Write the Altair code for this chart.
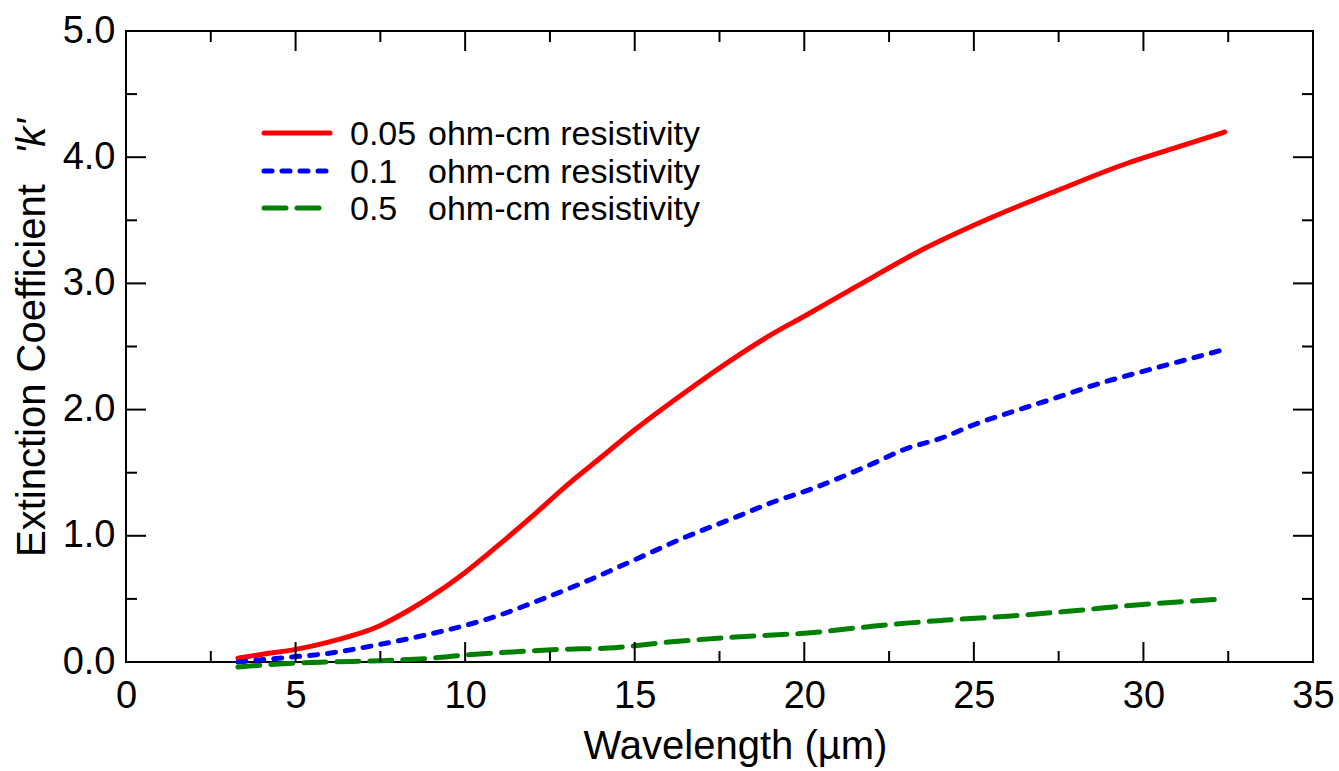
import altair as alt
import pandas as pd

# ---------------- data ----------------
series_labels = ["0.05", "0.1", "0.5"]
legend_unit = "ohm-cm resistivity"
series_colors = ["#ff0000", "#0000ff", "#008000"]
series_dashes = [None, [8, 10], [22, 11]]

red_x = [3.3, 4.0, 5.0, 6.0, 7.5, 8.4, 9.0, 10.0, 11.0, 12.0, 13.0, 14.0, 15.0, 16.5, 18.0,
         19.0, 20.0, 21.5, 23.5, 25.5, 27.5, 29.5, 31.0, 32.4]
red_y = [0.03, 0.06, 0.10, 0.16, 0.29, 0.42, 0.52, 0.71, 0.93, 1.16, 1.40, 1.62, 1.84, 2.14, 2.42,
         2.59, 2.74, 2.97, 3.27, 3.52, 3.74, 3.95, 4.08, 4.20]

blue_x = [3.3, 4.5, 6.0, 7.4, 8.6, 10.0, 11.0, 12.0, 13.4, 15.0, 16.5, 18.0, 19.1, 20.1,
          22.0, 23.0, 24.0, 25.0, 26.1, 27.5, 28.5, 30.5, 32.3]
blue_y = [0.00, 0.03, 0.07, 0.135, 0.20, 0.29, 0.37, 0.47, 0.62, 0.81, 0.99, 1.15, 1.27, 1.36,
          1.57, 1.69, 1.77, 1.88, 1.98, 2.10, 2.19, 2.34, 2.47]

green_x = [3.3, 4.5, 6.0, 7.5, 9.0, 10.0, 11.4, 12.8, 14.2, 16.1, 18.1, 20.1, 21.9, 23.1,
           24.1, 26.1, 27.7, 29.7, 32.4]
green_y = [-0.04, -0.015, 0.0, 0.01, 0.03, 0.055, 0.08, 0.10, 0.11, 0.16, 0.20, 0.23, 0.28, 0.31,
           0.33, 0.365, 0.40, 0.45, 0.50]

series_x = [red_x, blue_x, green_x]
series_y = [red_y, blue_y, green_y]

x_label_values = [0, 5, 10, 15, 20, 25, 30, 35]
y_label_values = [0, 1, 2, 3, 4, 5]
x_major = [5, 10, 15, 20, 25, 30]
x_minor = [2.5, 7.5, 12.5, 17.5, 22.5, 27.5, 32.5]
y_major = [1, 2, 3, 4]
y_minor = [0.5, 1.5, 2.5, 3.5, 4.5]

x_title = "Wavelength (µm)"
y_title_main = "Extinction Coefficient"
y_title_k = "'k'"

# ---------------- layout ----------------
W, H = 1187, 631
FONT = "Liberation Sans"
MAJ, MIN = 20, 11
LW = 5

xs = alt.Scale(domain=[0, 35], nice=False, zero=False)
ys = alt.Scale(domain=[0, 5], nice=False, zero=False)

x_axis = alt.Axis(
    values=x_label_values, format="d", labelFontSize=38, labelPadding=34,
    labelBaseline="middle", labelColor="black", labelFlush=False, labelOverlap=False,
    labelFont=FONT, ticks=False, tickSize=0, domain=False, grid=False,
    title=x_title, titleFont=FONT, titleFontSize=40, titleFontWeight="normal",
    titleColor="black", titleX=609, titleY=84, titleBaseline="middle", titleAlign="center")
y_axis = alt.Axis(
    values=y_label_values, format=".1f", labelFontSize=38, labelPadding=11,
    labelColor="black", labelFlush=False, labelOverlap=False, labelFont=FONT,
    ticks=False, tickSize=0, domain=False, grid=False, title=None)

layers = []

for i, (sx, sy) in enumerate(zip(series_x, series_y)):
    df = pd.DataFrame({"x": sx, "y": sy})
    mk = dict(color=series_colors[i], strokeWidth=LW, strokeCap="round", strokeJoin="round",
              interpolate="monotone")
    if series_dashes[i]:
        mk["strokeDash"] = series_dashes[i]
    layers.append(alt.Chart(df).mark_line(**mk).encode(
        x=alt.X("x:Q", scale=xs, axis=x_axis),
        y=alt.Y("y:Q", scale=ys, axis=y_axis)))

# inward ticks on all four sides
def ticks(vals, side, length):
    df = pd.DataFrame({"v": vals})
    m = alt.Chart(df).mark_rule(color="black", strokeWidth=2)
    if side == "bottom":
        return m.encode(x=alt.X("v:Q", scale=xs, axis=x_axis), y=alt.value(H), y2=alt.value(H - length))
    if side == "top":
        return m.encode(x=alt.X("v:Q", scale=xs, axis=x_axis), y=alt.value(0), y2=alt.value(length))
    if side == "left":
        return m.encode(y=alt.Y("v:Q", scale=ys, axis=y_axis), x=alt.value(0), x2=alt.value(length))
    return m.encode(y=alt.Y("v:Q", scale=ys, axis=y_axis), x=alt.value(W), x2=alt.value(W - length))

for side in ["bottom", "top"]:
    layers.append(ticks(x_major, side, MAJ))
    layers.append(ticks(x_minor, side, MIN))
for side in ["left", "right"]:
    layers.append(ticks(y_major, side, MAJ))
    layers.append(ticks(y_minor, side, MIN))

# legend (inside plot)
legend_rows_y = [102, 140, 177]
for i, lab in enumerate(series_labels):
    df = pd.DataFrame({"lab": [lab], "unit": [legend_unit]})
    mk = dict(color=series_colors[i], strokeWidth=LW, strokeCap="round")
    if series_dashes[i]:
        mk["strokeDash"] = series_dashes[i]
    ly = legend_rows_y[i]
    layers.append(alt.Chart(df).mark_rule(**mk).encode(
        x=alt.value(138), x2=alt.value(204), y=alt.value(ly)))
    layers.append(alt.Chart(df).mark_text(
        align="left", baseline="middle", fontSize=34, font=FONT, color="black").encode(
        x=alt.value(224), y=alt.value(ly + 2), text="lab:N"))
    layers.append(alt.Chart(df).mark_text(
        align="left", baseline="middle", fontSize=34, font=FONT, color="black").encode(
        x=alt.value(302), y=alt.value(ly + 2), text="unit:N"))

# y-axis title with italic k
t1 = pd.DataFrame({"t": [y_title_main]})
t2 = pd.DataFrame({"t": [y_title_k]})
layers.append(alt.Chart(t1).mark_text(
    angle=270, align="left", baseline="middle", fontSize=40, font=FONT, color="black").encode(
    x=alt.value(-93), y=alt.value(526), text="t:N"))
layers.append(alt.Chart(t2).mark_text(
    angle=270, align="right", baseline="middle", fontSize=40, font=FONT, fontStyle="italic",
    color="black").encode(
    x=alt.value(-93), y=alt.value(88), text="t:N"))

chart = alt.layer(*layers).properties(
    width=W, height=H,
    autosize=alt.AutoSizeParams(type="none"),
    padding={"left": 126, "top": 31, "right": 26, "bottom": 109},
    background="white",
).configure(
    font=FONT,
    view=alt.ViewConfig(stroke="black", strokeWidth=2),
)

chart.save("out.html", embed_options={"renderer": "svg", "actions": False})
